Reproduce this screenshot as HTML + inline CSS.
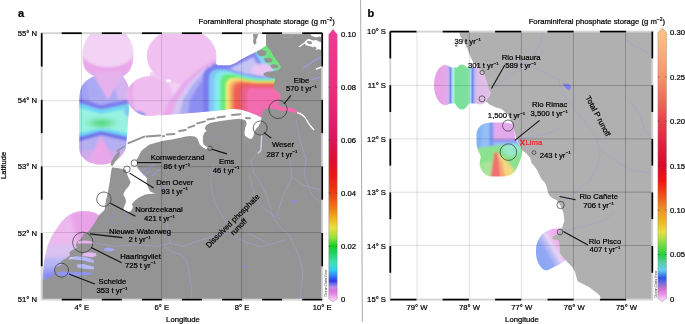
<!DOCTYPE html><html><head><meta charset="utf-8"><style>
html,body{margin:0;padding:0;background:#fff;width:685px;height:324px;overflow:hidden}
svg{display:block;font-family:"Liberation Sans",sans-serif}
text{fill:#000;stroke:#000;stroke-width:0.22px}
</style></head><body>
<svg width="685" height="324" viewBox="0 0 685 324">
<defs><linearGradient id="cbA" x1="0" y1="34" x2="0" y2="299" gradientUnits="userSpaceOnUse"><stop offset="0.0000" stop-color="#ee3a94"/><stop offset="0.2000" stop-color="#e8307f"/><stop offset="0.3245" stop-color="#e02070"/><stop offset="0.4000" stop-color="#d81858"/><stop offset="0.4755" stop-color="#d81030"/><stop offset="0.5321" stop-color="#e81818"/><stop offset="0.6000" stop-color="#e84010"/><stop offset="0.6566" stop-color="#f07818"/><stop offset="0.6943" stop-color="#f0b020"/><stop offset="0.7321" stop-color="#e8e040"/><stop offset="0.7698" stop-color="#90e040"/><stop offset="0.8000" stop-color="#10d020"/><stop offset="0.8264" stop-color="#20d060"/><stop offset="0.8604" stop-color="#40e0b0"/><stop offset="0.8906" stop-color="#30d0f0"/><stop offset="0.9132" stop-color="#3080f4"/><stop offset="0.9321" stop-color="#3434ec"/><stop offset="0.9434" stop-color="#7070ec"/><stop offset="0.9547" stop-color="#b890e4"/><stop offset="0.9698" stop-color="#e070e0"/><stop offset="0.9849" stop-color="#ea94ea"/><stop offset="1.0000" stop-color="#f4c8f4"/></linearGradient><linearGradient id="cbB" x1="0" y1="32" x2="0" y2="299" gradientUnits="userSpaceOnUse"><stop offset="0.0000" stop-color="#fdbf87"/><stop offset="0.0861" stop-color="#fcaa78"/><stop offset="0.1685" stop-color="#f8906a"/><stop offset="0.2547" stop-color="#f06a5a"/><stop offset="0.3371" stop-color="#e8404a"/><stop offset="0.4232" stop-color="#e02040"/><stop offset="0.4981" stop-color="#d80a30"/><stop offset="0.5543" stop-color="#f01010"/><stop offset="0.6105" stop-color="#f05010"/><stop offset="0.6629" stop-color="#f09020"/><stop offset="0.7041" stop-color="#f0b020"/><stop offset="0.7491" stop-color="#e8e040"/><stop offset="0.7790" stop-color="#a0e040"/><stop offset="0.8352" stop-color="#20d040"/><stop offset="0.8614" stop-color="#50d0a0"/><stop offset="0.8914" stop-color="#60d0f0"/><stop offset="0.9213" stop-color="#3050f0"/><stop offset="0.9438" stop-color="#8070e0"/><stop offset="0.9625" stop-color="#d070d0"/><stop offset="0.9813" stop-color="#e890e8"/><stop offset="1.0000" stop-color="#f4c8f4"/></linearGradient><filter id="noop" x="0" y="0" width="685" height="324" filterUnits="userSpaceOnUse"><feOffset dx="0" dy="0"/></filter><radialGradient id="gA2g"><stop offset="0" stop-color="#50d884"/><stop offset="0.45" stop-color="#78e4a8"/><stop offset="1" stop-color="#98f2e2" stop-opacity="0"/></radialGradient><filter id="bl1" x="-20%" y="-20%" width="140%" height="140%"><feGaussianBlur stdDeviation="1.3"/></filter><filter id="bl2" x="-20%" y="-20%" width="140%" height="140%"><feGaussianBlur stdDeviation="2.2"/></filter><clipPath id="clipA"><rect x="41.7" y="33.2" width="280.5" height="266.4"/></clipPath><clipPath id="clipB"><rect x="390.3" y="31.6" width="262.0" height="268.0"/></clipPath><clipPath id="uA"><path d="M91.7,33 L124.8,33 C130,38 133.5,46 133.5,55 C133.5,62 132,67 129.5,71 C127,74 124.5,75.5 122.5,76.5 L96,76.5 C92,75 88,73 85.5,70 C83.5,67 82.5,61 82.5,55 C82.5,46 86,38 91.7,33 Z"/>
<path d="M97,75.5 C91,77 86,80.5 82.5,85 C80.5,88 79.5,93 79.3,100 L79.3,148 C79.3,158 89,164.5 101,164.5 C114,164.5 122,158 126,148 L128.8,110 L128.8,88 C128,84 125.5,79 122,75.5 Z"/>
<ellipse cx="150" cy="96" rx="23" ry="20"/>
<ellipse cx="181.6" cy="56" rx="34.9" ry="28"/>
<polygon points="160,115.3 185,113.5 200,112.3 216,110.8 224,110 232,108.8 241.7,109.7 250,112.5 257,115.3 261.2,117.4 264,116.7 300,120 300,44 270,44.1 266.1,45.5 263.3,47.6 257.8,51 252.2,53.8 246.7,56.6 241.1,59.4 235.6,62.9 230,65.2 217.5,65.2 216.1,63.6 216.1,55.2 200,72 172,80 165,100"/>
<polygon points="150,72 165,74 175,83 200,72 216,64 216,110.8 200,112.3 185,113.5 165,115 150,116"/>
<path d="M99,215.5 C95,212 90,211 82.7,211 C75,211.5 68,214.5 62.3,221 C59,225 57.5,227.5 55.7,230.2 C53,234 51.5,236.5 50.5,239.4 C48.5,243 47.5,246 46.6,249.9 C45.5,254 44.5,258 44,263 L42.6,276 L42,281 L100,285 Z"/></clipPath></defs>
<g clip-path="url(#clipA)"><g clip-path="url(#uA)"><rect x="40" y="30" width="270" height="260" fill="#f3d3f5"/><g filter="url(#bl1)"><path d="M91.7,33 L124.8,33 C130,38 133.5,46 133.5,55 C133.5,62 132,67 129.5,71 C127,74 124.5,75.5 122.5,76.5 L96,76.5 C92,75 88,73 85.5,70 C83.5,67 82.5,61 82.5,55 C82.5,46 86,38 91.7,33 Z" fill="#eaa8ea"/><ellipse cx="108" cy="49" rx="28" ry="18" fill="#f3d3f5"/></g><g filter="url(#bl1)"><rect x="76" y="74" width="56" height="95" fill="#98f2e2"/><path d="M76,74 L132,74 L132,101 L101,107 L76,100 Z" fill="#acaaf4"/><path d="M76,80 L86,80 L90,103 L76,100 Z" fill="#a0a2f2"/><path d="M112,74 L132,74 L132,100 L118,100 Z" fill="#d4b4f0"/><path d="M92,72 L124,72 L108,100 Z" fill="#e6b2ee"/><polyline points="76,100 101,107.5 132,101" fill="none" stroke="#7c7cf0" stroke-width="4.5"/><polyline points="76,104.5 101,112 132,105.5" fill="none" stroke="#70d6f6" stroke-width="4"/><polyline points="76,136.5 101,129.5 132,136.5" fill="none" stroke="#70d6f6" stroke-width="4"/><ellipse cx="101.5" cy="123" rx="22" ry="8" fill="url(#gA2g)"/><path d="M76,140.5 L101,133.5 L132,140.5 L132,170 L76,170 Z" fill="#b4aef2"/><path d="M84,170 L101,136 L119,170 Z" fill="#eca6e8"/><path d="M76,150 L132,150 L132,170 L76,170 Z" fill="#e6a8ea" opacity="0.55"/><polyline points="76,140 101,133 132,140" fill="none" stroke="#7272ea" stroke-width="4"/></g><g filter="url(#bl1)"><ellipse cx="150" cy="96" rx="23" ry="20" fill="#eebcef"/><path d="M132,82 Q128,97 134,112" stroke="#e8aaea" stroke-width="4" fill="none"/><ellipse cx="137" cy="115" rx="9" ry="4" fill="#9a96f0"/><ellipse cx="128" cy="111" rx="4" ry="5" fill="#80c8f4"/></g><g filter="url(#bl1)"><ellipse cx="181.6" cy="56" rx="35" ry="28" fill="#f0c0f0"/><polygon points="160,120 170,100 182,84 198,70 214,60 300,45 300,125" fill="#e8a8ec"/><polygon points="170,120 177,100 188,84 202,70 216,62 300,47 300,125" fill="#d6c8f4"/><polygon points="178,120 183,100 192,86 204,72 216,63 300,49 300,125" fill="#acacf4"/><polygon points="187,120 190,100 197,88 207,74 219,65 300,51 300,125" fill="#8e8ef2"/><polyline points="214,67 230,67 242,61 256,54 268,47" fill="none" stroke="#8080f0" stroke-width="5"/><polygon points="214,66 232,64 245,57 262,49 300,45 300,77 262,76.5 245,74 230,71 222,70 214,71" fill="#c4c4f4"/><polyline points="212,66 230,66 242,60 256,53 268,46" fill="none" stroke="#8282f0" stroke-width="4.5"/><g transform="rotate(50 272 57)"><ellipse cx="272" cy="59" rx="26" ry="14" fill="#8a8af0"/><ellipse cx="273" cy="58" rx="23" ry="11" fill="#7cd8f4"/><ellipse cx="274" cy="56.5" rx="19.5" ry="7.5" fill="#6ce67c"/></g><ellipse cx="262" cy="69.5" rx="11" ry="6" fill="#eac4f4"/><path d="M203,125 L203,78 Q203,66 215,66 C227,66 245,76.5 262,76.5 L305,76.5 L305,125 Z" fill="#7c7cf0"/><path d="M209,125 L209,79 Q209,69 219,69 C231,69 245,77.4 262,77.4 L305,77.4 L305,125 Z" fill="#80c8f8"/><path d="M214.5,125 L214.5,80.5 Q214.5,71.5 223.5,71.5 C235.5,71.5 245,78.4 262,78.4 L305,78.4 L305,125 Z" fill="#84ece8"/><path d="M220.5,125 L220.5,82 Q220.5,74 228.5,74 C240.5,74 245,79.6 262,79.6 L305,79.6 L305,125 Z" fill="#68ec78"/><path d="M226,125 L226,86 Q226,78 234,78 C246,78 245,81.2 262,81.2 L305,81.2 L305,125 Z" fill="#f6e678"/><path d="M229,125 L229,88 Q229,80 237,80 C249,80 245,82 262,82 L305,82 L305,125 Z" fill="#f8b868"/><path d="M231.5,125 L231.5,89.8 Q231.5,81.8 239.5,81.8 C251.5,81.8 245,82.9 262,82.9 L305,82.9 L305,125 Z" fill="#f08858"/><path d="M234,125 L234,91.3 Q234,83.3 242,83.3 C254,83.3 245,84.3 262,84.3 L305,84.3 L305,125 Z" fill="#f05c58"/><path d="M241,125 L241,92.8 Q241,85.8 248,85.8 C260,85.8 245,86.8 262,86.8 L305,86.8 L305,125 Z" fill="#ea6088"/><path d="M247,125 L247,93.5 Q247,87.5 253,87.5 C265,87.5 245,88.5 262,88.5 L305,88.5 L305,125 Z" fill="#f46cb0"/></g><g filter="url(#bl2)"><rect x="40" y="205" width="70" height="85" fill="#ecb8ee"/><path d="M70,212 L100,210 L100,252 L80,248 Z" fill="#e8a2e8"/><path d="M40,246 L70,244 L100,254 L100,290 L40,290 Z" fill="#d8c2f2"/><path d="M40,258 L70,258 L100,264 L100,290 L40,290 Z" fill="#b4b6f4"/><path d="M40,268 L70,268 L100,272 L100,290 L40,290 Z" fill="#9a9ef2"/><path d="M44,274 L70,272 L98,274 L98,278 L44,281 Z" fill="#8486f0"/></g></g></g>
<g clip-path="url(#clipA)"><polygon points="266.0,33.0 266.0,45.0 271.0,51.5 274.7,57.7 278.4,62.6 281.0,67.5 278.0,70.0 273.0,71.3 267.0,71.8 263.5,73.2 264.0,75.5 267.0,77.0 272.0,77.8 275.4,78.5 274.4,82.2 273.5,86.0 274.4,89.6 277.2,91.5 280.0,93.3 281.0,97.0 279.0,100.7 278.1,104.4 281.0,106.3 284.6,107.2 290.2,107.8 294.8,109.0 297.6,111.5 298.0,113.5 292.0,111.8 286.5,111.0 280.0,110.5 273.5,109.0 269.5,108.2 266.5,108.5 264.0,110.0 262.0,113.0 261.5,117.0 261.2,119.5 260.5,123.0 259.8,123.6 258.4,126.4 256.3,128.5 254.2,132.0 253.5,136.1 251.4,138.9 248.7,138.2 245.2,136.1 244.5,133.3 245.2,127.8 246.6,124.3 245.9,120.8 243.1,119.4 239.0,118.8 232.0,119.4 224.0,120.5 216.0,121.8 209.7,123.0 206.0,125.5 204.8,128.6 206.6,131.0 204.1,132.9 202.9,136.6 202.9,140.9 203.5,144.6 206.0,146.5 209.7,147.5 206.0,149.0 202.3,147.1 199.8,144.6 198.6,141.5 197.3,138.5 194.9,136.6 189.9,136.0 186.0,136.5 173.0,139.3 162.0,141.0 149.0,144.8 141.7,150.4 139.8,153.7 138.0,157.4 135.0,161.6 134.4,163.5 127.0,169.0 124.0,169.4 119.0,168.2 112.0,167.6 111.0,172.0 110.0,180.0 108.0,192.0 106.0,200.0 104.5,210.0 99.4,214.8 93.9,224.0 89.2,230.6 86.4,233.3 83.8,233.5 82.0,237.5 79.5,240.0 77.0,241.5 75.7,245.4 77.0,248.0 72.0,250.0 69.4,252.4 70.0,255.0 66.0,258.5 62.0,260.5 60.4,262.8 62.0,265.0 58.0,266.0 55.0,268.0 54.9,271.0 56.0,274.0 52.0,276.5 49.4,277.8 42.0,280.2 41.0,280.0 41.0,300.0 323.0,300.0 323.0,33.0" fill="#949494"/><polygon points="122.4,160.0 137.2,160.0 137.2,167.4 140.0,171.1 142.8,173.9 147.4,178.5 146.5,181.3 147.4,186.0 150.2,191.5 153.9,193.0 155.7,193.6 148.3,194.0 144.6,194.8 139.0,197.5 135.4,200.3 131.7,204.0 133.0,207.0 131.0,211.0 127.5,212.2 124.0,211.3 123.3,210.0 124.3,206.3 126.1,201.7 125.2,198.0 123.3,194.3 125.2,190.6 128.9,186.0 130.7,182.2 128.0,176.7 126.1,171.1" fill="#fff"/><polygon points="119.5,151.0 117.0,153.0 114.0,157.0 111.5,161.0 110.5,165.0 112.5,166.0 115.0,162.0 118.0,158.0 120.0,154.0" fill="#949494"/><polygon points="116.0,151.0 120.0,148.0 124.6,145.5 125.0,146.5 121.0,149.5 117.0,152.0" fill="#949494"/><polygon points="253.0,34.0 258.0,34.0 257.5,37.0 256.0,40.0 256.5,43.0 254.5,45.0 253.0,42.0 253.5,38.0" fill="#949494"/><polygon points="257.0,51.0 262.0,49.5 266.5,51.5 266.0,55.0 261.0,56.5 257.5,54.5" fill="#949494"/><polygon points="264.0,58.5 268.5,57.5 272.5,59.0 272.0,62.0 267.0,63.0 264.5,61.0" fill="#949494"/><polygon points="270.0,65.0 274.0,64.0 278.5,65.5 277.5,68.0 272.0,68.5" fill="#949494"/><line x1="128.5" y1="143.2" x2="144.2" y2="136.6" stroke="#949494" stroke-width="2" stroke-linecap="round"/><line x1="146.5" y1="136.6" x2="160.2" y2="135.4" stroke="#949494" stroke-width="2" stroke-linecap="round"/><line x1="163" y1="136.3" x2="164" y2="136.1" stroke="#949494" stroke-width="2" stroke-linecap="round"/><line x1="166.8" y1="134.5" x2="174.4" y2="133.9" stroke="#949494" stroke-width="2" stroke-linecap="round"/><line x1="179.2" y1="131" x2="185.8" y2="130" stroke="#949494" stroke-width="2" stroke-linecap="round"/><line x1="188.4" y1="127.6" x2="194.4" y2="125.6" stroke="#949494" stroke-width="2" stroke-linecap="round"/><line x1="197.2" y1="123.4" x2="205" y2="121.4" stroke="#949494" stroke-width="2" stroke-linecap="round"/><line x1="207.5" y1="119.4" x2="214.4" y2="118.6" stroke="#949494" stroke-width="2" stroke-linecap="round"/><line x1="217.4" y1="117.5" x2="224.8" y2="116.6" stroke="#949494" stroke-width="2" stroke-linecap="round"/><line x1="232" y1="115" x2="240.2" y2="114.2" stroke="#949494" stroke-width="2" stroke-linecap="round"/><line x1="246" y1="118" x2="250" y2="118.2" stroke="#949494" stroke-width="2" stroke-linecap="round"/><ellipse cx="168.5" cy="80.8" rx="2.6" ry="1.4" fill="#fff"/><polygon points="305.0,41.5 307.0,39.5 309.0,38.8 311.0,39.8 313.5,40.5 316.0,40.0 319.0,41.5 321.5,42.5 321.5,50.0 318.5,49.2 316.0,49.8 314.5,48.5 312.0,46.8 309.0,46.0 306.0,45.2 304.5,43.0" fill="#fff"/><polygon points="298.4,46.5 306.5,41.0 307.5,41.8 299.4,47.2" fill="#fff"/><polygon points="310.5,33.0 322.0,33.0 322.0,37.0 319.0,36.5 316.0,37.5 313.0,36.5 311.0,35.5" fill="#fff"/><polygon points="315.7,68.5 322.0,66.0 322.0,67.5 316.0,70.0" fill="#fff"/><polygon points="307.5,40.8 311.5,41.5 312,44 309,44.3 307,42.5" fill="#949494"/><polygon points="313,46.5 316,47 316.5,49 314,49.3" fill="#949494"/><polygon points="78.0,241.2 84.0,240.4 90.0,241.0 94.0,242.2 94.0,243.8 88.0,243.4 82.0,243.4 77.5,243.8" fill="#e8b0ec"/><polygon points="84.0,252.6 90.0,252.2 95.8,253.2 96.5,256.0 92.0,257.2 86.0,256.4 82.0,256.0" fill="#e4b8f0"/><polygon points="70.0,257.0 78.0,256.5 78.0,259.0 72.0,259.3 68.0,259.5" fill="#c8c0f4"/><polygon points="76.0,256.5 84.0,256.8 90.0,258.2 94.0,260.5 93.5,263.0 89.0,262.0 84.0,260.5 78.0,260.0 74.0,259.5" fill="#b4b8f6"/><polygon points="77.0,264.5 83.0,264.0 89.0,265.5 94.0,266.8 94.0,269.5 88.0,269.0 82.0,268.4 77.5,267.6" fill="#b8bcf6"/><polygon points="57.5,271.8 64.0,271.4 70.0,272.0 78.0,272.2 86.0,272.0 92.0,272.8 92.0,274.6 84.0,274.8 78.0,275.8 70.0,276.2 62.0,276.0 57.5,275.2" fill="#9094f2"/><polygon points="104.0,248.5 108.0,247.6 112.0,248.0 114.5,249.5 112.0,251.5 107.0,251.2 104.0,250.4" fill="#a4a4f0"/><path d="M297,112.5 Q303,114 306,119 Q309,125 314,130" fill="none" stroke="#fff" stroke-width="1.3"/><path d="M297,112.3 L285,109.3" stroke="#f26caf" stroke-width="2.2"/><polyline points="261.8,136.2 260.9,148.5 255.6,154.7 251.0,160.9 254.0,173.2 260.2,182.5 264.9,191.7 269.5,204.0 272.6,216.4 278.8,225.7 290.0,236.0 298.6,255.0 303.0,272.0 301.0,290.0 300.0,299.0" fill="none" stroke="#a4a4dc" stroke-width="0.7" opacity="0.75"/><polyline points="290.0,160.0 292.0,177.0 283.4,194.6 277.0,216.0" fill="none" stroke="#a4a4dc" stroke-width="0.7" opacity="0.75"/><polyline points="249.0,233.5 258.0,238.0 268.0,244.0" fill="none" stroke="#a4a4dc" stroke-width="0.7" opacity="0.75"/><polyline points="292.0,177.0 303.5,185.5 315.8,188.6 322.0,190.0" fill="none" stroke="#a4a4dc" stroke-width="0.7" opacity="0.75"/><polyline points="214.0,164.0 210.9,176.3 210.6,180.0 212.0,191.0 214.7,202.0 219.0,210.5 224.4,219.0 228.6,228.6 235.6,237.0 246.7,242.5 260.6,246.7 271.7,244.0 285.0,240.0" fill="none" stroke="#a4a4dc" stroke-width="0.7" opacity="0.75"/><polyline points="249.4,175.0 255.0,196.7 263.0,207.8 274.0,216.0 280.0,219.0" fill="none" stroke="#a4a4dc" stroke-width="0.7" opacity="0.75"/><polyline points="96.2,243.2 114.7,246.3 136.3,244.8 157.9,246.3 170.2,243.2 182.6,246.3 201.0,240.0 215.0,236.0 230.0,232.0" fill="none" stroke="#a4a4dc" stroke-width="0.7" opacity="0.75"/><polyline points="164.0,246.3 172.0,252.0 180.0,254.0 185.6,259.0 189.0,270.0 191.0,285.0 192.0,299.0" fill="none" stroke="#a4a4dc" stroke-width="0.7" opacity="0.75"/><polyline points="157.9,206.2 167.2,224.7 170.2,243.2" fill="none" stroke="#a4a4dc" stroke-width="0.7" opacity="0.75"/><polyline points="283.0,38.0 290.0,37.0 293.0,35.5" fill="none" stroke="#a4a4dc" stroke-width="0.7" opacity="0.75"/><polyline points="296.0,120.0 300.0,140.0 306.0,160.0 304.0,175.0 312.0,195.0 322.0,205.0" fill="none" stroke="#a4a4dc" stroke-width="0.7" opacity="0.75"/><polyline points="303,67.5 306,66.5 309,64 313,61.5 318,58.5 321,57" fill="none" stroke="#9c9cf0" stroke-width="1.2"/><polyline points="311,80 316,78.5 320,77" fill="none" stroke="#9c9cf0" stroke-width="1"/><polyline points="261.6,134.5 261.4,142 261,150 258,153.5" fill="none" stroke="#cfcfe6" stroke-width="1.3"/><line x1="141" y1="172" x2="146" y2="168" stroke="#9a9ae8" stroke-width="1" stroke-linecap="round"/><line x1="144" y1="175" x2="150" y2="171" stroke="#9a9ae8" stroke-width="1" stroke-linecap="round"/><line x1="149" y1="167" x2="154" y2="165" stroke="#9a9ae8" stroke-width="1" stroke-linecap="round"/><line x1="152" y1="176" x2="156" y2="173" stroke="#9a9ae8" stroke-width="1" stroke-linecap="round"/><line x1="157" y1="171" x2="160" y2="170" stroke="#9a9ae8" stroke-width="1" stroke-linecap="round"/><line x1="163" y1="186" x2="167" y2="184" stroke="#9a9ae8" stroke-width="1" stroke-linecap="round"/><line x1="160" y1="189" x2="163" y2="188" stroke="#9a9ae8" stroke-width="1" stroke-linecap="round"/><ellipse cx="294.5" cy="201.3" rx="2.3" ry="1.4" fill="#8a8af0"/><ellipse cx="245.8" cy="266.7" rx="1.8" ry="1" fill="#8a8af0"/><ellipse cx="212.4" cy="137.7" rx="0.8" ry="0.8" fill="#8a8af0"/><ellipse cx="104" cy="218.7" rx="0.9" ry="0.7" fill="#8a8af0"/><ellipse cx="108.5" cy="219" rx="0.9" ry="0.8" fill="#8a8af0"/><ellipse cx="112.2" cy="216.3" rx="1" ry="0.7" fill="#8a8af0"/><ellipse cx="119.6" cy="216.9" rx="0.9" ry="0.8" fill="#8a8af0"/><ellipse cx="124.2" cy="215" rx="1" ry="0.8" fill="#8a8af0"/><ellipse cx="125" cy="220" rx="0.9" ry="1.2" fill="#8a8af0"/><ellipse cx="114" cy="222.8" rx="0.8" ry="0.7" fill="#8a8af0"/><ellipse cx="113.5" cy="213.5" rx="0.7" ry="0.6" fill="#8a8af0"/><ellipse cx="150" cy="170" rx="1.2" ry="0.7" fill="#8a8af0"/><ellipse cx="155" cy="172" rx="1" ry="0.6" fill="#8a8af0"/><ellipse cx="160" cy="168" rx="1.1" ry="0.7" fill="#8a8af0"/><ellipse cx="238" cy="176" rx="0.7" ry="0.7" fill="#8a8af0"/><ellipse cx="300" cy="296" rx="1.2" ry="0.8" fill="#8a8af0"/><ellipse cx="232" cy="152" rx="0.7" ry="0.7" fill="#8a8af0"/><ellipse cx="244" cy="290" rx="0.9" ry="0.6" fill="#8a8af0"/></g>
<defs><linearGradient id="gHu" x1="434" y1="0" x2="491" y2="0" gradientUnits="userSpaceOnUse"><stop offset="0.000" stop-color="#e8a0e8"/><stop offset="0.202" stop-color="#e6a8e8"/><stop offset="0.251" stop-color="#c8b8f0"/><stop offset="0.289" stop-color="#7c88f0"/><stop offset="0.333" stop-color="#b8f4f8"/><stop offset="0.377" stop-color="#78e098"/><stop offset="0.596" stop-color="#80e0a0"/><stop offset="0.632" stop-color="#b0f0ec"/><stop offset="0.675" stop-color="#7088f0"/><stop offset="0.719" stop-color="#c8b8ec"/><stop offset="0.772" stop-color="#e0bce8"/><stop offset="1.000" stop-color="#e2c0ea"/></linearGradient>
<clipPath id="uHu"><ellipse cx="445.5" cy="85" rx="11.5" ry="20"/><ellipse cx="462" cy="87" rx="10" ry="22.5"/><ellipse cx="480" cy="86" rx="12" ry="18.5"/><rect x="444" y="67.5" width="40" height="36"/></clipPath>
<linearGradient id="gPi" x1="538" y1="256" x2="562" y2="242" gradientUnits="userSpaceOnUse"><stop offset="0" stop-color="#8aa8f6"/><stop offset="0.3" stop-color="#94a8f4"/><stop offset="0.5" stop-color="#c4c0f4"/><stop offset="0.62" stop-color="#e2d6f6"/><stop offset="0.8" stop-color="#f0b6f0"/><stop offset="1" stop-color="#eeacee"/></linearGradient>
<clipPath id="uLi"><path d="M481.9,124.7 C485,123 489,122.6 495,122.6 L502.4,122.6 C507,122.6 511,123.5 513.2,124.7 L515.4,138.8 C518,143 521,146 521.8,149.6 C522,153 521.5,156 520.8,158.2 C519.5,162 518.5,164 517.5,166.8 C516,169.5 515,171.5 513.2,173.3 C510,175.5 506,176.6 502.4,176.6 L491.6,176.6 C488,176.5 485,174.5 483,172.2 C481,169.5 480,167 479.7,164.7 C479.5,161.5 480.5,159 480.8,157.1 C480.5,155 479.5,153.5 478.6,151.7 C477.3,149 476.6,146 476.5,143.1 L476.5,134.4 C476.6,131.5 477.5,129.5 478.6,128 C479.6,126.5 480.6,125.5 481.9,124.7 Z"/></clipPath>
<radialGradient id="gLiR" cx="495" cy="172" r="26" gradientUnits="userSpaceOnUse" gradientTransform="translate(495 172) scale(0.75 1) translate(-495 -172)"><stop offset="0" stop-color="#f06060"/><stop offset="0.2" stop-color="#f27a60"/><stop offset="0.4" stop-color="#f4b070"/><stop offset="0.58" stop-color="#eee080"/><stop offset="0.78" stop-color="#80e090"/><stop offset="1" stop-color="#88b4f4"/></radialGradient></defs>
<g clip-path="url(#clipB)"><rect x="430" y="60" width="65" height="55" fill="url(#gHu)" clip-path="url(#uHu)"/><g clip-path="url(#uLi)"><g filter="url(#bl1)"><rect x="470" y="115" width="55" height="70" fill="#94c0f8"/><rect x="470" y="115" width="12" height="40" fill="#84b4f6"/><rect x="489.5" y="118" width="4" height="28" fill="#7c94f0"/><rect x="493.5" y="118" width="24" height="22" fill="#e2aaea"/><rect x="493" y="139.5" width="25" height="2.5" fill="#8c8cf0"/><path d="M476,148 L500,145 L525,146 L525,185 L476,185 Z" fill="#8ce28e"/><path d="M478,165 L492,160 L492,180 L478,180 Z" fill="#a8e49a"/><ellipse cx="512" cy="150" rx="9" ry="6" fill="#98e8cc"/><path d="M496,152 L506,160 L514,170 L512,180 L498,180 Z" fill="#f2d880"/><path d="M496,153 L502,162 L506,180 L497,180 Z" fill="#f4a874"/><path d="M494.3,152 L497.3,152 L500.5,178 L490.5,178 Z" fill="#f27070"/></g></g><path d="M559,228.5 C555,228.6 553,228.8 550.9,229.4 C548,230.3 546,231.3 544.3,232.6 C541.8,234.5 540.4,236.3 539.4,238.3 C537.5,241.5 536.6,244 536.2,246.5 C535.9,249.7 535.9,253 536.2,256.3 C536.7,259 537.5,261.5 538.6,263.7 C540,266.3 541.7,268.2 543.5,269.4 C545,270.2 546.3,270.4 547.6,270.2 C549.5,269.6 551,268.7 552.5,267.8 C555,266.4 557,265.5 559,264.5 L565.6,260.4 L568,240 L563,228 Z" fill="url(#gPi)"/></g>
<g clip-path="url(#clipB)"><polygon points="459.0,31.0 460.4,36.6 464.0,42.0 467.8,49.5 470.6,57.0 473.3,62.5 476.0,66.2 480.0,68.4 484.0,73.7 486.6,80.5 489.1,89.0 490.8,92.4 490.0,95.7 487.4,99.1 486.0,101.5 490.0,104.8 496.0,107.5 501.7,109.0 508.2,115.1 511.4,121.6 513.6,128.0 515.8,136.7 517.9,142.1 520.0,145.4 521.6,150.0 526.0,153.0 530.0,157.7 531.6,163.1 533.9,165.4 537.0,170.0 539.3,174.7 541.6,179.3 544.7,182.4 546.2,185.4 547.5,190.5 549.0,195.0 551.5,197.6 557.0,200.4 560.7,206.0 563.5,213.3 564.4,220.7 562.6,226.3 561.7,228.7 558.9,232.4 556.0,235.2 553.3,236.1 552.4,238.9 556.0,239.8 558.9,240.7 559.8,247.2 559.8,252.8 561.7,255.6 564.6,259.0 568.0,262.8 572.8,267.7 575.2,272.5 576.9,278.9 577.7,281.3 582.5,283.7 588.9,286.9 595.3,291.7 599.3,295.0 601.7,299.6 653.0,299.6 653.0,31.0" fill="#b0b0b0"/><polyline points="543.4,31.0 540.3,43.2 534.2,55.5 525.0,64.6 510.0,75.0 498.0,84.0 489.0,90.0" fill="none" stroke="#a0a0d8" stroke-width="0.7" opacity="0.75"/><polyline points="558.7,80.0 561.7,92.2 571.0,104.4 583.0,119.7 595.0,135.0 600.0,150.0 598.0,165.0 590.0,180.0 575.0,192.0 562.0,203.0" fill="none" stroke="#a0a0d8" stroke-width="0.7" opacity="0.75"/><polyline points="626.0,31.0 629.0,43.0 641.0,49.3 653.0,55.5" fill="none" stroke="#a0a0d8" stroke-width="0.7" opacity="0.75"/><polyline points="520.0,62.0 535.0,67.0 548.0,75.0 558.7,80.0" fill="none" stroke="#a0a0d8" stroke-width="0.7" opacity="0.75"/><polyline points="562.0,232.0 575.0,228.0 590.0,225.0 605.0,220.0 615.0,212.0" fill="none" stroke="#a0a0d8" stroke-width="0.7" opacity="0.75"/><polyline points="600.0,150.0 615.0,160.0 630.0,170.0 645.0,172.0 653.0,175.0" fill="none" stroke="#a0a0d8" stroke-width="0.7" opacity="0.75"/><polyline points="630.0,100.0 640.0,115.0 645.0,130.0 653.0,140.0" fill="none" stroke="#a0a0d8" stroke-width="0.7" opacity="0.75"/><polyline points="522.0,139.0 532.0,136.5 545.0,134.0 555.0,131.0 562.0,126.0" fill="none" stroke="#a0a0d8" stroke-width="0.7" opacity="0.75"/><path d="M562.2,83.5 L569,84 L571,86 L570.5,88.5 L568.5,90.4 L565,87 Z" fill="#8080f0"/></g>
<g stroke="#000" stroke-opacity="0.12" stroke-width="1"><line x1="81.5" y1="33.2" x2="81.5" y2="299.6"/><line x1="161.6" y1="33.2" x2="161.6" y2="299.6"/><line x1="241.6" y1="33.2" x2="241.6" y2="299.6"/><line x1="41.7" y1="100.7" x2="322.2" y2="100.7"/><line x1="41.7" y1="166.7" x2="322.2" y2="166.7"/><line x1="41.7" y1="232.5" x2="322.2" y2="232.5"/><line x1="417.0" y1="31.6" x2="417.0" y2="299.6"/><line x1="469.3" y1="31.6" x2="469.3" y2="299.6"/><line x1="521.4" y1="31.6" x2="521.4" y2="299.6"/><line x1="573.5" y1="31.6" x2="573.5" y2="299.6"/><line x1="625.5" y1="31.6" x2="625.5" y2="299.6"/><line x1="390.3" y1="85.55" x2="652.3" y2="85.55"/><line x1="390.3" y1="138.9" x2="652.3" y2="138.9"/><line x1="390.3" y1="192.2" x2="652.3" y2="192.2"/><line x1="390.3" y1="245.5" x2="652.3" y2="245.5"/></g>
<clipPath id="landAclip"><polygon points="266.0,33.0 266.0,45.0 271.0,51.5 274.7,57.7 278.4,62.6 281.0,67.5 278.0,70.0 273.0,71.3 267.0,71.8 263.5,73.2 264.0,75.5 267.0,77.0 272.0,77.8 275.4,78.5 274.4,82.2 273.5,86.0 274.4,89.6 277.2,91.5 280.0,93.3 281.0,97.0 279.0,100.7 278.1,104.4 281.0,106.3 284.6,107.2 290.2,107.8 294.8,109.0 297.6,111.5 298.0,113.5 292.0,111.8 286.5,111.0 280.0,110.5 273.5,109.0 269.5,108.2 266.5,108.5 264.0,110.0 262.0,113.0 261.5,117.0 261.2,119.5 260.5,123.0 259.8,123.6 258.4,126.4 256.3,128.5 254.2,132.0 253.5,136.1 251.4,138.9 248.7,138.2 245.2,136.1 244.5,133.3 245.2,127.8 246.6,124.3 245.9,120.8 243.1,119.4 239.0,118.8 232.0,119.4 224.0,120.5 216.0,121.8 209.7,123.0 206.0,125.5 204.8,128.6 206.6,131.0 204.1,132.9 202.9,136.6 202.9,140.9 203.5,144.6 206.0,146.5 209.7,147.5 206.0,149.0 202.3,147.1 199.8,144.6 198.6,141.5 197.3,138.5 194.9,136.6 189.9,136.0 186.0,136.5 173.0,139.3 162.0,141.0 149.0,144.8 141.7,150.4 139.8,153.7 138.0,157.4 135.0,161.6 134.4,163.5 127.0,169.0 124.0,169.4 119.0,168.2 112.0,167.6 111.0,172.0 110.0,180.0 108.0,192.0 106.0,200.0 104.5,210.0 99.4,214.8 93.9,224.0 89.2,230.6 86.4,233.3 83.8,233.5 82.0,237.5 79.5,240.0 77.0,241.5 75.7,245.4 77.0,248.0 72.0,250.0 69.4,252.4 70.0,255.0 66.0,258.5 62.0,260.5 60.4,262.8 62.0,265.0 58.0,266.0 55.0,268.0 54.9,271.0 56.0,274.0 52.0,276.5 49.4,277.8 42.0,280.2 41.0,280.0 41.0,300.0 323.0,300.0 323.0,33.0"/></clipPath><clipPath id="landBclip"><polygon points="459.0,31.0 460.4,36.6 464.0,42.0 467.8,49.5 470.6,57.0 473.3,62.5 476.0,66.2 480.0,68.4 484.0,73.7 486.6,80.5 489.1,89.0 490.8,92.4 490.0,95.7 487.4,99.1 486.0,101.5 490.0,104.8 496.0,107.5 501.7,109.0 508.2,115.1 511.4,121.6 513.6,128.0 515.8,136.7 517.9,142.1 520.0,145.4 521.6,150.0 526.0,153.0 530.0,157.7 531.6,163.1 533.9,165.4 537.0,170.0 539.3,174.7 541.6,179.3 544.7,182.4 546.2,185.4 547.5,190.5 549.0,195.0 551.5,197.6 557.0,200.4 560.7,206.0 563.5,213.3 564.4,220.7 562.6,226.3 561.7,228.7 558.9,232.4 556.0,235.2 553.3,236.1 552.4,238.9 556.0,239.8 558.9,240.7 559.8,247.2 559.8,252.8 561.7,255.6 564.6,259.0 568.0,262.8 572.8,267.7 575.2,272.5 576.9,278.9 577.7,281.3 582.5,283.7 588.9,286.9 595.3,291.7 599.3,295.0 601.7,299.6 653.0,299.6 653.0,31.0"/></clipPath>
<g stroke="#000" stroke-opacity="0.09" stroke-width="1" clip-path="url(#landAclip)"><line x1="81.5" y1="33.2" x2="81.5" y2="299.6"/><line x1="161.6" y1="33.2" x2="161.6" y2="299.6"/><line x1="241.6" y1="33.2" x2="241.6" y2="299.6"/><line x1="41.7" y1="100.7" x2="322.2" y2="100.7"/><line x1="41.7" y1="166.7" x2="322.2" y2="166.7"/><line x1="41.7" y1="232.5" x2="322.2" y2="232.5"/></g>
<g stroke="#000" stroke-opacity="0.1" stroke-width="1" clip-path="url(#landBclip)"><line x1="417.0" y1="31.6" x2="417.0" y2="299.6"/><line x1="469.3" y1="31.6" x2="469.3" y2="299.6"/><line x1="521.4" y1="31.6" x2="521.4" y2="299.6"/><line x1="573.5" y1="31.6" x2="573.5" y2="299.6"/><line x1="625.5" y1="31.6" x2="625.5" y2="299.6"/><line x1="390.3" y1="85.55" x2="652.3" y2="85.55"/><line x1="390.3" y1="138.9" x2="652.3" y2="138.9"/><line x1="390.3" y1="192.2" x2="652.3" y2="192.2"/><line x1="390.3" y1="245.5" x2="652.3" y2="245.5"/></g>
<g fill="none" stroke="#333" stroke-width="0.7"><circle cx="278" cy="109.3" r="9.2"/><circle cx="260.2" cy="128" r="7"/><circle cx="210" cy="148.3" r="2.2"/><circle cx="134.4" cy="163.1" r="3.3"/><circle cx="126.9" cy="169.3" r="3.3"/><circle cx="103.9" cy="199.2" r="7.2"/><circle cx="82.8" cy="242.4" r="10.2"/><circle cx="61.5" cy="270.2" r="7"/><circle cx="482.2" cy="72.4" r="2.2"/><circle cx="482" cy="98.8" r="3"/><circle cx="508.1" cy="125.6" r="5.6"/><circle cx="508.4" cy="152.1" r="8.3"/><circle cx="534" cy="152.6" r="1.9"/><circle cx="560.6" cy="205" r="3.7"/><circle cx="560" cy="232" r="2.8"/><circle cx="456.3" cy="45.6" r="0.9"/></g>
<g stroke="#111" stroke-width="1.1"><line x1="290.9" y1="95.3" x2="284" y2="104"/><line x1="263.9" y1="132.6" x2="271.3" y2="138.1"/><line x1="212" y1="149.3" x2="226.9" y2="153.9"/><line x1="137" y1="162.6" x2="161.1" y2="162.6"/><line x1="129.6" y1="173.1" x2="153.7" y2="188"/><line x1="110.4" y1="203.3" x2="135.4" y2="216.3"/><line x1="90" y1="233.9" x2="122.4" y2="237.6"/><line x1="91.1" y1="247.6" x2="121.7" y2="262.8"/><line x1="68.9" y1="273.9" x2="94.8" y2="284.1"/><line x1="504.8" y1="64.9" x2="491.5" y2="88.6"/><line x1="539.6" y1="120.4" x2="514.8" y2="140.4"/><line x1="559.6" y1="196.5" x2="575.6" y2="199.8"/><line x1="563.3" y1="231.5" x2="588" y2="245"/></g>
<rect x="41.7" y="33.2" width="280.5" height="266.4" fill="none" stroke="#d4d4d4" stroke-width="1.9"/>
<line x1="61.7" y1="33.2" x2="81.8" y2="33.2" stroke="#000" stroke-width="1.7"/>
<line x1="61.7" y1="299.6" x2="81.8" y2="299.6" stroke="#000" stroke-width="1.7"/>
<line x1="101.8" y1="33.2" x2="121.8" y2="33.2" stroke="#000" stroke-width="1.7"/>
<line x1="101.8" y1="299.6" x2="121.8" y2="299.6" stroke="#000" stroke-width="1.7"/>
<line x1="141.9" y1="33.2" x2="161.9" y2="33.2" stroke="#000" stroke-width="1.7"/>
<line x1="141.9" y1="299.6" x2="161.9" y2="299.6" stroke="#000" stroke-width="1.7"/>
<line x1="181.9" y1="33.2" x2="202.0" y2="33.2" stroke="#000" stroke-width="1.7"/>
<line x1="181.9" y1="299.6" x2="202.0" y2="299.6" stroke="#000" stroke-width="1.7"/>
<line x1="222.0" y1="33.2" x2="242.1" y2="33.2" stroke="#000" stroke-width="1.7"/>
<line x1="222.0" y1="299.6" x2="242.1" y2="299.6" stroke="#000" stroke-width="1.7"/>
<line x1="262.1" y1="33.2" x2="282.1" y2="33.2" stroke="#000" stroke-width="1.7"/>
<line x1="262.1" y1="299.6" x2="282.1" y2="299.6" stroke="#000" stroke-width="1.7"/>
<line x1="302.2" y1="33.2" x2="322.2" y2="33.2" stroke="#000" stroke-width="1.7"/>
<line x1="302.2" y1="299.6" x2="322.2" y2="299.6" stroke="#000" stroke-width="1.7"/>
<line x1="41.7" y1="33.2" x2="41.7" y2="66.5" stroke="#000" stroke-width="1.7"/>
<line x1="322.2" y1="33.2" x2="322.2" y2="66.5" stroke="#000" stroke-width="1.7"/>
<line x1="41.7" y1="99.8" x2="41.7" y2="133.1" stroke="#000" stroke-width="1.7"/>
<line x1="322.2" y1="99.8" x2="322.2" y2="133.1" stroke="#000" stroke-width="1.7"/>
<line x1="41.7" y1="166.4" x2="41.7" y2="199.7" stroke="#000" stroke-width="1.7"/>
<line x1="322.2" y1="166.4" x2="322.2" y2="199.7" stroke="#000" stroke-width="1.7"/>
<line x1="41.7" y1="233.0" x2="41.7" y2="266.3" stroke="#000" stroke-width="1.7"/>
<line x1="322.2" y1="233.0" x2="322.2" y2="266.3" stroke="#000" stroke-width="1.7"/>
<rect x="390.3" y="31.6" width="262.0" height="268.0" fill="none" stroke="#d4d4d4" stroke-width="1.9"/>
<line x1="390.3" y1="31.6" x2="416.5" y2="31.6" stroke="#000" stroke-width="1.7"/>
<line x1="390.3" y1="299.6" x2="416.5" y2="299.6" stroke="#000" stroke-width="1.7"/>
<line x1="442.7" y1="31.6" x2="468.9" y2="31.6" stroke="#000" stroke-width="1.7"/>
<line x1="442.7" y1="299.6" x2="468.9" y2="299.6" stroke="#000" stroke-width="1.7"/>
<line x1="495.1" y1="31.6" x2="521.3" y2="31.6" stroke="#000" stroke-width="1.7"/>
<line x1="495.1" y1="299.6" x2="521.3" y2="299.6" stroke="#000" stroke-width="1.7"/>
<line x1="547.5" y1="31.6" x2="573.7" y2="31.6" stroke="#000" stroke-width="1.7"/>
<line x1="547.5" y1="299.6" x2="573.7" y2="299.6" stroke="#000" stroke-width="1.7"/>
<line x1="599.9" y1="31.6" x2="626.1" y2="31.6" stroke="#000" stroke-width="1.7"/>
<line x1="599.9" y1="299.6" x2="626.1" y2="299.6" stroke="#000" stroke-width="1.7"/>
<line x1="390.3" y1="31.6" x2="390.3" y2="58.4" stroke="#000" stroke-width="1.7"/>
<line x1="652.3" y1="31.6" x2="652.3" y2="58.4" stroke="#000" stroke-width="1.7"/>
<line x1="390.3" y1="85.2" x2="390.3" y2="112.0" stroke="#000" stroke-width="1.7"/>
<line x1="652.3" y1="85.2" x2="652.3" y2="112.0" stroke="#000" stroke-width="1.7"/>
<line x1="390.3" y1="138.8" x2="390.3" y2="165.6" stroke="#000" stroke-width="1.7"/>
<line x1="652.3" y1="138.8" x2="652.3" y2="165.6" stroke="#000" stroke-width="1.7"/>
<line x1="390.3" y1="192.4" x2="390.3" y2="219.2" stroke="#000" stroke-width="1.7"/>
<line x1="652.3" y1="192.4" x2="652.3" y2="219.2" stroke="#000" stroke-width="1.7"/>
<line x1="390.3" y1="246.0" x2="390.3" y2="272.8" stroke="#000" stroke-width="1.7"/>
<line x1="652.3" y1="246.0" x2="652.3" y2="272.8" stroke="#000" stroke-width="1.7"/>
<line x1="360.6" y1="0" x2="362.4" y2="322" stroke="#aaa" stroke-width="1"/>
<path d="M328.8,34.6 L333,29.2 L337.2,34.6 L337.2,299 L333,301.8 L328.8,299 Z" fill="url(#cbA)" stroke="#888" stroke-width="0.4"/>
<path d="M657.9,32.4 L662.2,28 L666.5,32.4 L666.5,298.4 L662.2,301.8 L657.9,298.4 Z" fill="url(#cbB)" stroke="#888" stroke-width="0.4"/>
<g stroke="#333" stroke-width="0.7" opacity="0.8"><line x1="328.8" y1="87.2" x2="330.2" y2="87.2"/><line x1="335.8" y1="87.2" x2="337.2" y2="87.2"/><line x1="328.8" y1="140.2" x2="330.2" y2="140.2"/><line x1="335.8" y1="140.2" x2="337.2" y2="140.2"/><line x1="328.8" y1="193.2" x2="330.2" y2="193.2"/><line x1="335.8" y1="193.2" x2="337.2" y2="193.2"/><line x1="328.8" y1="246.2" x2="330.2" y2="246.2"/><line x1="335.8" y1="246.2" x2="337.2" y2="246.2"/><line x1="657.9" y1="76.9" x2="659.3" y2="76.9"/><line x1="665.1" y1="76.9" x2="666.5" y2="76.9"/><line x1="657.9" y1="121.3" x2="659.3" y2="121.3"/><line x1="665.1" y1="121.3" x2="666.5" y2="121.3"/><line x1="657.9" y1="165.7" x2="659.3" y2="165.7"/><line x1="665.1" y1="165.7" x2="666.5" y2="165.7"/><line x1="657.9" y1="210.1" x2="659.3" y2="210.1"/><line x1="665.1" y1="210.1" x2="666.5" y2="210.1"/><line x1="657.9" y1="254.5" x2="659.3" y2="254.5"/><line x1="665.1" y1="254.5" x2="666.5" y2="254.5"/></g>
<g filter="url(#noop)"><text x="18" y="17" font-size="11" font-weight="bold">a</text><text x="367.5" y="17" font-size="11" font-weight="bold">b</text><text x="37" y="36.0" font-size="7.7" text-anchor="end" >55° N</text><text x="37" y="102.60000000000001" font-size="7.7" text-anchor="end" >54° N</text><text x="37" y="169.20000000000005" font-size="7.7" text-anchor="end" >53° N</text><text x="37" y="235.8" font-size="7.7" text-anchor="end" >52° N</text><text x="37" y="302.40000000000003" font-size="7.7" text-anchor="end" >51° N</text><text x="386" y="34.4" font-size="7.7" text-anchor="end" >10° S</text><text x="386" y="88.0" font-size="7.7" text-anchor="end" >11° S</text><text x="386" y="141.60000000000002" font-size="7.7" text-anchor="end" >12° S</text><text x="386" y="195.20000000000002" font-size="7.7" text-anchor="end" >13° S</text><text x="386" y="248.8" font-size="7.7" text-anchor="end" >14° S</text><text x="386" y="302.40000000000003" font-size="7.7" text-anchor="end" >15° S</text><text x="81.77142857142857" y="310.3" font-size="7.7" text-anchor="middle" >4° E</text><text x="161.9142857142857" y="310.3" font-size="7.7" text-anchor="middle" >6° E</text><text x="242.05714285714288" y="310.3" font-size="7.7" text-anchor="middle" >8° E</text><text x="322.2" y="310.3" font-size="7.7" text-anchor="middle" >10° E</text><text x="417.0" y="310.3" font-size="7.7" text-anchor="middle" >79° W</text><text x="469.4" y="310.3" font-size="7.7" text-anchor="middle" >78° W</text><text x="521.8" y="310.3" font-size="7.7" text-anchor="middle" >77° W</text><text x="574.1999999999999" y="310.3" font-size="7.7" text-anchor="middle" >76° W</text><text x="626.5999999999999" y="310.3" font-size="7.7" text-anchor="middle" >75° W</text><text x="183" y="321.6" font-size="7.7" text-anchor="middle" >Longitude</text><text x="522" y="321.6" font-size="7.7" text-anchor="middle" >Longitude</text><text x="6.5" y="165.4" font-size="7.7" text-anchor="middle" transform="rotate(-90 6.5 165.4)">Latitude</text><text x="266.7" y="24" font-size="7.7" text-anchor="middle">Foraminiferal phosphate storage (g m<tspan dy="-3" font-size="5">−2</tspan><tspan dy="3">)</tspan></text><text x="596.9" y="24.3" font-size="7.7" text-anchor="middle">Foraminiferal phosphate storage (g m<tspan dy="-3" font-size="5">−2</tspan><tspan dy="3">)</tspan></text><text x="341" y="37.0" font-size="7.7" text-anchor="start" >0.10</text><text x="341" y="90.0" font-size="7.7" text-anchor="start" >0.08</text><text x="341" y="143.0" font-size="7.7" text-anchor="start" >0.06</text><text x="341" y="196.0" font-size="7.7" text-anchor="start" >0.04</text><text x="341" y="249.0" font-size="7.7" text-anchor="start" >0.02</text><text x="341" y="302.0" font-size="7.7" text-anchor="start" >0</text><text x="670" y="35.3" font-size="7.7" text-anchor="start" >0.30</text><text x="670" y="79.7" font-size="7.7" text-anchor="start" >0.25</text><text x="670" y="124.1" font-size="7.7" text-anchor="start" >0.20</text><text x="670" y="168.5" font-size="7.7" text-anchor="start" >0.15</text><text x="670" y="212.9" font-size="7.7" text-anchor="start" >0.10</text><text x="670" y="257.3" font-size="7.7" text-anchor="start" >0.05</text><text x="670" y="301.7" font-size="7.7" text-anchor="start" >0</text><g transform="translate(0,-0.8)"><text x="301.5" y="83.5" font-size="7.7" text-anchor="middle" >Elbe</text><text x="301.5" y="92.2" font-size="7.7" text-anchor="middle">570 t yr<tspan dx="0.3" dy="-3.3" font-size="4.3">−1</tspan></text><text x="283" y="148.3" font-size="7.7" text-anchor="middle" >Weser</text><text x="282" y="157.4" font-size="7.7" text-anchor="middle">287 t yr<tspan dx="0.3" dy="-3.3" font-size="4.3">−1</tspan></text><text x="226.7" y="165" font-size="7.7" text-anchor="middle" >Ems</text><text x="226" y="173.6" font-size="7.7" text-anchor="middle">46 t yr<tspan dx="0.3" dy="-3.3" font-size="4.3">−1</tspan></text><text x="177.6" y="161.1" font-size="7.7" text-anchor="middle" >Kornwederzand</text><text x="176.9" y="169.8" font-size="7.7" text-anchor="middle">86 t yr<tspan dx="0.3" dy="-3.3" font-size="4.3">−1</tspan></text><text x="174.8" y="186.1" font-size="7.7" text-anchor="middle" >Den Oever</text><text x="174.5" y="194.6" font-size="7.7" text-anchor="middle">93 t yr<tspan dx="0.3" dy="-3.3" font-size="4.3">−1</tspan></text><text x="159" y="212.5" font-size="7.7" text-anchor="middle" >Nordzeekanal</text><text x="159.4" y="221.9" font-size="7.7" text-anchor="middle">421 t yr<tspan dx="0.3" dy="-3.3" font-size="4.3">−1</tspan></text><text x="140" y="234.7" font-size="7.7" text-anchor="middle" >Nieuwe Waterweg</text><text x="139.6" y="242.7" font-size="7.7" text-anchor="middle">2 t yr<tspan dx="0.3" dy="-3.3" font-size="4.3">−1</tspan></text><text x="140.6" y="260" font-size="7.7" text-anchor="middle" >Haaringvliet</text><text x="140.3" y="268.6" font-size="7.7" text-anchor="middle">725 t yr<tspan dx="0.3" dy="-3.3" font-size="4.3">−1</tspan></text><text x="112.4" y="284.6" font-size="7.7" text-anchor="middle" >Schelde</text><text x="112" y="293.8" font-size="7.7" text-anchor="middle">353 t yr<tspan dx="0.3" dy="-3.3" font-size="4.3">−1</tspan></text><text font-size="7.8" text-anchor="middle" transform="translate(234.5 223.5) rotate(-45)"><tspan x="0" y="0">Dissolved phosphate</tspan><tspan x="0" y="8.6">runoff</tspan></text><text font-size="3.5" text-anchor="middle" transform="translate(327.3 284) rotate(-90)" style="fill:#333;stroke:none">Ocean Data View</text><text font-size="3.5" text-anchor="middle" transform="translate(656.8 285) rotate(-90)" style="fill:#333;stroke:none">Ocean Data View</text><text x="467.7" y="45" font-size="7.7" text-anchor="middle">39 t yr<tspan dx="0.3" dy="-3.3" font-size="4.3">−1</tspan></text><text x="483.3" y="69" font-size="7.7" text-anchor="middle">301 t yr<tspan dx="0.3" dy="-3.3" font-size="4.3">−1</tspan></text><text x="501.7" y="60.4" font-size="7.7" text-anchor="start" >Rio Huaura</text><text x="505.2" y="69.3" font-size="7.7" text-anchor="start">589 t yr<tspan dx="0.3" dy="-3.3" font-size="4.3">−1</tspan></text><text x="549.7" y="107.6" font-size="7.7" text-anchor="middle" >Rio Rimac</text><text x="549.2" y="116.8" font-size="7.7" text-anchor="middle">3,500 t yr<tspan dx="0.3" dy="-3.3" font-size="4.3">−1</tspan></text><text x="506.5" y="119" font-size="7.7" text-anchor="middle">1,500 t yr<tspan dx="0.3" dy="-3.3" font-size="4.3">−1</tspan></text><path d="M520.2,140.4 L524.6,146.2 M524.6,140.4 L520.2,146.2" stroke="#f0202a" stroke-width="1.3" fill="none"/><text x="525.6" y="146" font-size="7.7" style="fill:#f0202a;stroke:#f0202a">Lima</text><text x="539.8" y="158.5" font-size="7.7" text-anchor="start">243 t yr<tspan dx="0.3" dy="-3.3" font-size="4.3">−1</tspan></text><text x="598.8" y="199.8" font-size="7.7" text-anchor="middle" >Rio Cañete</text><text x="598.6" y="208.7" font-size="7.7" text-anchor="middle">706 t yr<tspan dx="0.3" dy="-3.3" font-size="4.3">−1</tspan></text><text x="605" y="244.4" font-size="7.7" text-anchor="middle" >Rio Pisco</text><text x="605" y="253.1" font-size="7.7" text-anchor="middle">407 t yr<tspan dx="0.3" dy="-3.3" font-size="4.3">−1</tspan></text><text font-size="7.6" text-anchor="middle" transform="translate(595.8 118) rotate(62)">Total P runoff</text></g></g>
</svg></body></html>
